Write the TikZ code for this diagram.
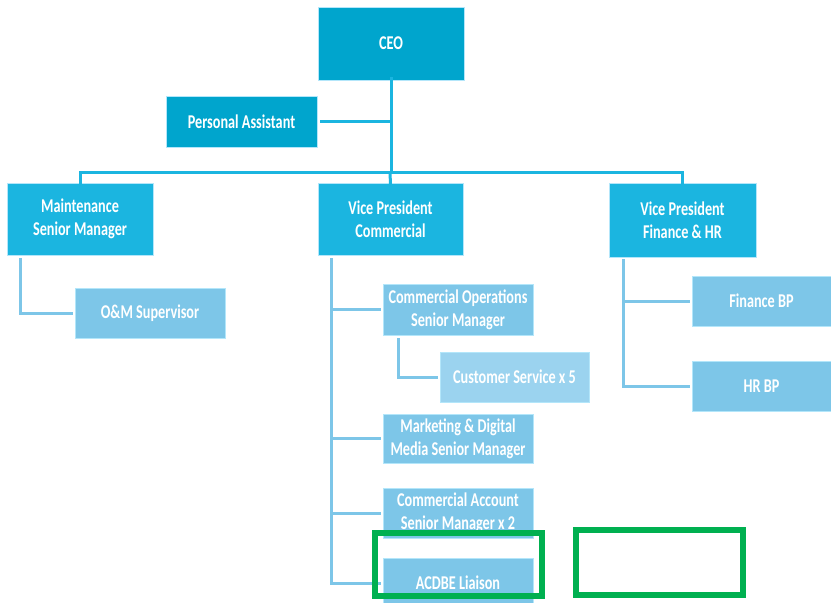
\documentclass[tikz,border=0pt]{standalone}
\usepackage{fontspec}
\setmainfont{Carlito}[FakeStretch=0.73]
\begin{document}
\begin{tikzpicture}[x=1pt,y=-1pt,
  box/.style={rectangle, inner sep=0pt, align=center, text=white,
    font=\fontsize{19.5}{23}\selectfont\bfseries, draw=white!70!cyan, line width=0.6pt},
  top/.style={box, fill=topc},
  mid/.style={box, fill=midc},
  low/.style={box, fill=lowc},
  pale/.style={box, fill=palec},
  conA/.style={draw=midc, line width=3pt},
  conB/.style={draw=lowc, line width=3pt},
  greenframe/.style={draw=greenc, line width=6pt}]
\definecolor{topc}{RGB}{0,165,205}
\definecolor{midc}{RGB}{27,181,224}
\definecolor{lowc}{RGB}{125,198,232}
\definecolor{palec}{RGB}{155,211,239}
\definecolor{greenc}{RGB}{0,176,80}
\clip (0,0) rectangle (831,603);
\fill[white] (0,0) rectangle (831,603);
% nodes
\node[top, minimum width=146pt, minimum height=73pt] (ceo) at (391,43.5) {CEO};
\node[top, minimum width=151pt, minimum height=51pt] (pa) at (241.5,121.5) {Personal Assistant};
\node[mid, minimum width=146pt, minimum height=72pt] (maint) at (80,219) {Maintenance\\Senior Manager};
\node[mid, minimum width=145pt, minimum height=72pt] (vpc) at (390.5,219) {Vice President\\Commercial};
\node[mid, minimum width=147pt, minimum height=74pt] (vpf) at (682.5,220) {Vice President\\Finance \& HR};
\node[low, minimum width=150pt, minimum height=50pt] (om) at (150,313) {O\&M Supervisor};
\node[low, minimum width=150pt, minimum height=51pt] (cops) at (458,309.5) {Commercial Operations\\Senior Manager};
\node[pale, minimum width=149pt, minimum height=50pt] (cs) at (514.5,377) {Customer Service x 5};
\node[low, minimum width=150pt, minimum height=49pt] (mkt) at (458,438.5) {Marketing \& Digital\\Media Senior Manager};
\node[low, minimum width=150pt, minimum height=50pt] (cam) at (458,513) {Commercial Account\\Senior Manager x 2};
\node[low, minimum width=150pt, minimum height=50pt] (acdbe) at (458,583) {ACDBE Liaison};
\node[low, minimum width=139pt, minimum height=50pt] (fin) at (761.5,301) {Finance BP};
\node[low, minimum width=139pt, minimum height=50pt] (hr) at (761.5,386) {HR BP};
% coordinates
\coordinate (bus) at (390,172);
\coordinate (mx) at (20,258);
\coordinate (cx) at (331,258);
\coordinate (csx) at (398,338);
\coordinate (fx) at (623,259);
% connectors
\draw[conA] ([yshift=3pt]ceo.south) -- (ceo.south |- bus);
\draw[conA] ([xshift=3pt]pa.east) -- (pa.east -| ceo.south);
\draw[conA] ([yshift=-2pt]maint.north) |- (bus) -| ([yshift=-2pt]vpf.north);
\draw[conA] (bus) -- ([yshift=-2pt]vpc.north);
\draw[conB] (mx) |- ([xshift=-2pt]om.west);
\draw[conB] (cx) |- ([xshift=-2pt]acdbe.west);
\draw[conB] (cx |- cops.west) -- ([xshift=-2pt]cops.west);
\draw[conB] (cx |- mkt.west) -- ([xshift=-2pt]mkt.west);
\draw[conB] (cx |- cam.west) -- ([xshift=-2pt]cam.west);
\draw[conB] (csx) |- ([xshift=-2pt]cs.west);
\draw[conB] (fx) |- ([xshift=-2pt]hr.west);
\draw[conB] (fx |- fin.west) -- ([xshift=-2pt]fin.west);
% green highlight frames
\draw[greenframe] (375,533) rectangle (542,596);
\draw[greenframe] (576,530) rectangle (743,595);
\end{tikzpicture}
\end{document}
